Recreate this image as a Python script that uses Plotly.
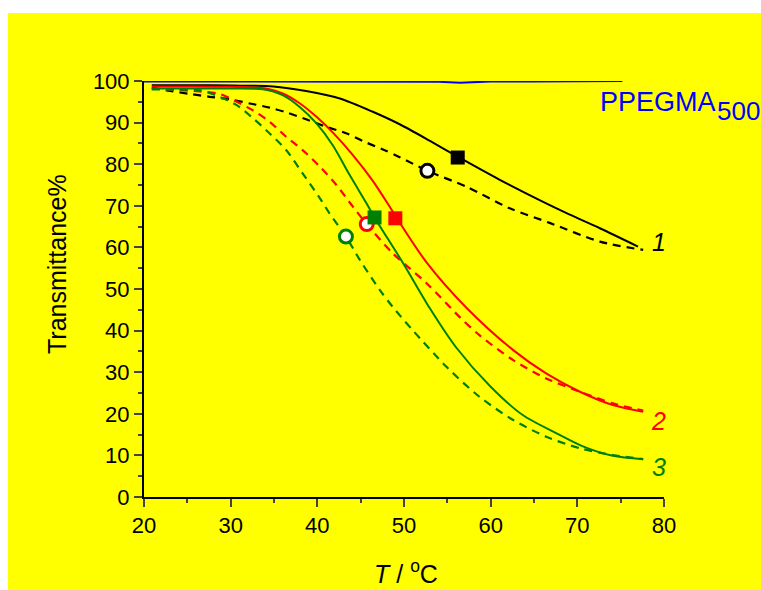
import plotly.graph_objects as go

# ---------------- data ----------------
blue_T = [20.0, 30.0, 40.0, 50.0, 54.0, 56.5, 58.5, 60.0, 65.0, 70.0, 75.2]
blue_Y = [99.9, 99.9, 99.9, 99.9, 99.8, 99.6, 99.7, 99.9, 99.9, 100.0, 100.0]

k_sol_T = [20.9, 25.0, 30.0, 34.9, 38.7, 42.6, 46.4, 49.5, 53.0, 56.2, 61.0, 65.7, 69.0, 72.6, 77.0]
k_sol_Y = [99.0, 99.0, 98.9, 98.7, 97.6, 95.8, 92.6, 89.6, 85.6, 81.8, 76.3, 71.3, 68.0, 64.6, 60.2]

k_dsh_T = [20.9, 23.0, 25.3, 27.6, 29.9, 32.2, 34.5, 36.5, 38.7, 41.0, 43.4, 45.2, 47.5, 49.5, 52.7,
           57.2, 62.2, 66.8, 72.6, 77.6]
k_dsh_Y = [98.4, 97.6, 96.9, 96.2, 95.6, 94.6, 93.6, 92.4, 90.8, 89.0, 87.4, 85.6, 83.6, 81.7, 78.4,
           74.6, 69.4, 65.9, 61.4, 59.4]

r_sol_T = [20.9, 25.0, 30.0, 34.1, 36.0, 38.0, 39.9, 41.8, 44.1, 46.4, 48.4, 49.0, 52.6, 57.2,
           62.6, 66.4, 70.3, 74.1, 77.6]
r_sol_Y = [98.7, 98.7, 98.6, 98.2, 97.0, 94.6, 91.4, 87.6, 82.2, 76.0, 69.6, 67.6, 56.4, 45.5,
           35.3, 29.7, 25.3, 22.1, 20.5]

r_dsh_T = [20.9, 24.0, 26.4, 28.7, 30.7, 32.6, 34.5, 36.4, 38.3, 40.3, 42.2, 44.1, 45.7, 48.7,
           52.6, 56.4, 58.7, 62.6, 66.4, 70.3, 74.1, 77.6]
r_dsh_Y = [98.2, 97.8, 97.5, 96.9, 95.0, 92.9, 90.2, 86.6, 83.4, 79.4, 75.0, 69.8, 65.6, 58.6,
           51.4, 43.3, 38.9, 32.9, 28.5, 25.3, 22.5, 20.8]

g_sol_T = [20.9, 25.0, 30.0, 33.7, 36.0, 38.0, 39.9, 41.8, 43.7, 45.7, 46.6, 49.9, 53.0, 56.0,
           60.0, 63.7, 67.6, 70.5, 74.1, 77.6]
g_sol_Y = [98.2, 98.2, 98.2, 98.0, 96.6, 93.7, 89.8, 84.5, 77.5, 70.5, 67.2, 56.2, 45.3, 36.0,
           26.5, 19.7, 15.3, 12.3, 9.9, 9.1]

g_dsh_T = [20.9, 24.0, 26.4, 28.7, 30.7, 32.6, 34.5, 36.4, 38.3, 40.3, 41.4, 43.3, 44.9, 47.2,
           48.7, 51.0, 54.9, 58.7, 62.6, 66.4, 70.3, 74.1, 77.6]
g_dsh_Y = [98.0, 97.9, 97.8, 96.2, 94.2, 91.0, 87.4, 83.4, 77.8, 71.8, 68.2, 62.6, 57.0, 49.8,
           45.7, 40.1, 31.3, 24.1, 18.5, 14.5, 11.7, 10.1, 9.1]

sq_T = [56.2, 49.0, 46.6]          # filled squares (solid curves)
sq_Y = [81.6, 67.0, 67.2]
ci_T = [52.7, 45.7, 43.3]          # open circles (dashed curves)
ci_Y = [78.4, 65.6, 62.6]

x_ticks = [20, 30, 40, 50, 60, 70, 80]
y_ticks = [0, 10, 20, 30, 40, 50, 60, 70, 80, 90, 100]

curve_labels = ["1", "2", "3"]
label_T = [79.4, 79.4, 79.4]
label_Y = [61.4, 18.3, 7.2]

BLACK, RED, GREEN, BLUE = "#000000", "#FF0000", "#008000", "#0000FF"
colors = [BLACK, RED, GREEN]
FONT = "Liberation Sans, Arial, sans-serif"

fig = go.Figure()

DASH = "8px,6px"
fig.add_trace(go.Scatter(x=blue_T, y=blue_Y, mode="lines", line=dict(color=BLUE, width=2)))
for T, Y, c in [(k_dsh_T, k_dsh_Y, BLACK), (r_dsh_T, r_dsh_Y, RED), (g_dsh_T, g_dsh_Y, GREEN)]:
    fig.add_trace(go.Scatter(x=T, y=Y, mode="lines",
                             line=dict(color=c, width=2.2, dash=DASH, shape="spline", smoothing=0.8)))
for T, Y, c in [(k_sol_T, k_sol_Y, BLACK), (r_sol_T, r_sol_Y, RED), (g_sol_T, g_sol_Y, GREEN)]:
    fig.add_trace(go.Scatter(x=T, y=Y, mode="lines",
                             line=dict(color=c, width=2, shape="spline", smoothing=0.8)))

for i in range(3):
    fig.add_trace(go.Scatter(x=[sq_T[i]], y=[sq_Y[i]], mode="markers",
                             marker=dict(symbol="square", size=14, color=colors[i], line=dict(width=0))))
    fig.add_trace(go.Scatter(x=[ci_T[i]], y=[ci_Y[i]], mode="markers",
                             marker=dict(symbol="circle", size=13, color="white",
                                         line=dict(width=3, color=colors[i]))))

W, H = 761, 590
L, R, T_, B = 144, 97, 81, 93
pw, ph = W - L - R, H - T_ - B

annotations = []
for i in range(3):
    annotations.append(dict(x=label_T[i], y=label_Y[i], xref="x", yref="y", text="<i>%s</i>" % curve_labels[i],
                            showarrow=False, font=dict(family=FONT, size=25, color=colors[i]),
                            xanchor="center", yanchor="middle"))
annotations.append(dict(x=72.4, y=95.0, xref="x", yref="y", text="PPEGMA", showarrow=False,
                        font=dict(family=FONT, size=27, color=BLUE), xanchor="left", yanchor="middle"))
annotations.append(dict(x=(715 - L) / pw, y=(H - B - 111) / ph, xref="paper", yref="paper", text="500",
                        showarrow=False, font=dict(family=FONT, size=26, color=BLUE),
                        xanchor="left", yanchor="middle"))
# axis titles
annotations.append(dict(x=(57 - L) / pw, y=(H - B - 264) / ph, xref="paper", yref="paper",
                        text="Transmittance%", textangle=-90,
                        showarrow=False, font=dict(family=FONT, size=25, color="black"),
                        xanchor="center", yanchor="middle"))
annotations.append(dict(x=(406 - L) / pw, y=(H - B - 572) / ph, xref="paper", yref="paper",
                        text="<i>T</i> / <sup>o</sup>C",
                        showarrow=False, font=dict(family=FONT, size=25, color="black"),
                        xanchor="center", yanchor="middle"))

# white page border (top 13 px, left 8 px) around the yellow panel
shapes = [
    dict(type="rect", xref="paper", yref="paper", x0=-1, x1=2, y0=(H - B - 13) / ph, y1=3,
         fillcolor="white", line=dict(width=0), layer="above"),
    dict(type="rect", xref="paper", yref="paper", x0=-1, x1=(8 - L) / pw, y0=-1, y1=3,
         fillcolor="white", line=dict(width=0), layer="above"),
]

fig.update_layout(
    width=W, height=H,
    margin=dict(l=L, r=R, t=T_, b=B, autoexpand=False),
    paper_bgcolor="#FFFF00", plot_bgcolor="#FFFF00",
    showlegend=False,
    font=dict(family=FONT, size=22, color="black"),
    annotations=annotations,
    shapes=shapes,
)
fig.update_xaxes(range=[20, 80], tickvals=x_ticks, ticks="outside", ticklen=8, tickwidth=1.5,
                 showline=True, linecolor="black", linewidth=2, showgrid=False, zeroline=False,
                 tickfont=dict(family=FONT, size=22),
                 minor=dict(ticks="outside", dtick=5, tick0=20, ticklen=4, tickwidth=1.5, showgrid=False))
fig.update_yaxes(range=[0, 100], tickvals=y_ticks, ticks="outside", ticklen=8, tickwidth=1.5,
                 showline=True, linecolor="black", linewidth=2, showgrid=False, zeroline=False,
                 tickfont=dict(family=FONT, size=22),
                 minor=dict(ticks="outside", dtick=5, tick0=0, ticklen=4, tickwidth=1.5, showgrid=False))

fig.write_html("out.html",
               config={"displayModeBar": False},
               post_script="document.body.style.margin='0';"
                           "document.documentElement.style.overflow='hidden';")
